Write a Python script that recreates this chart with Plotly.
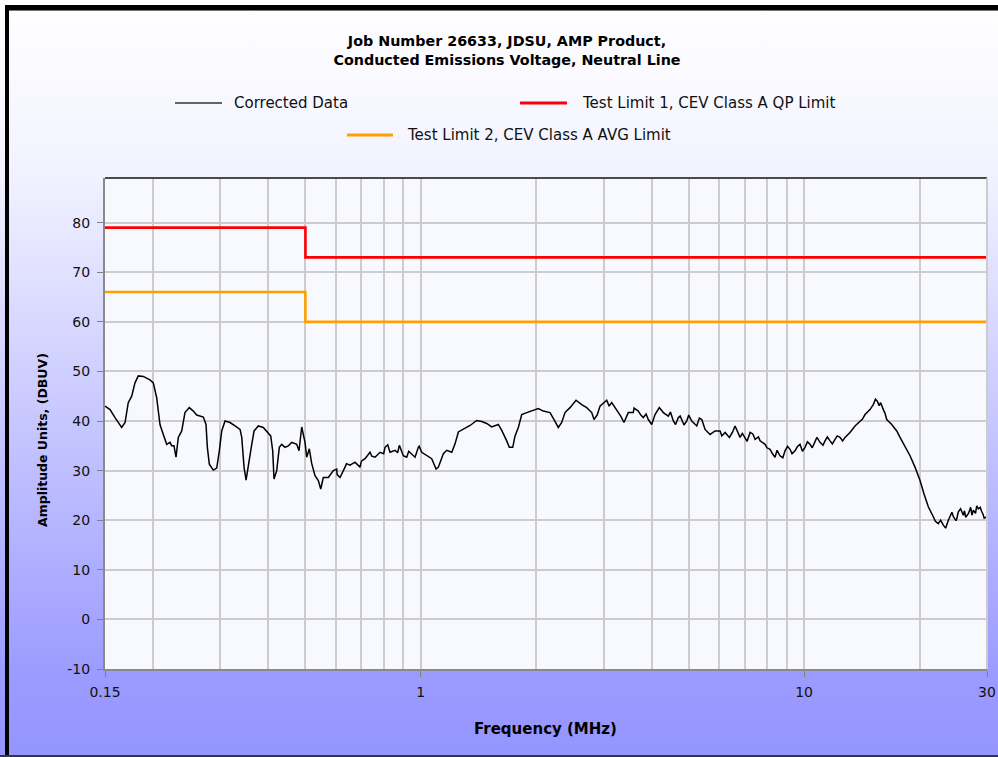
import base64
import plotly.graph_objects as go

# ---------------- data ----------------
freq_mhz = [
    0.150, 0.1546, 0.1593, 0.1658, 0.1692, 0.1725, 0.1761, 0.1796, 0.1832, 0.1888,
    0.1965, 0.2005, 0.2046, 0.2087, 0.2129, 0.2173, 0.2217, 0.2239, 0.2270, 0.2298,
    0.2330, 0.2378, 0.2425, 0.2489, 0.2550, 0.2602, 0.2708, 0.2752, 0.2774, 0.2807,
    0.2875, 0.2935, 0.2981, 0.3024, 0.3085, 0.3179, 0.3276, 0.3376, 0.3411, 0.3458,
    0.3500, 0.3549, 0.3622, 0.3673, 0.3767, 0.3882, 0.4000, 0.4059, 0.4108, 0.4140,
    0.4208, 0.4274, 0.4336, 0.4423, 0.4511, 0.4605, 0.4745, 0.4811,
    0.4890, 0.4988, 0.5039, 0.5118, 0.5193, 0.5297, 0.5403, 0.5482, 0.5567, 0.5738,
    0.5912, 0.6034, 0.6155, 0.6343, 0.6536, 0.6735, 0.6941, 0.7152, 0.7371, 0.7596,
    0.7828, 0.8066, 0.8311, 0.8566, 0.8790, 0.9002, 0.9189, 0.9470, 0.9660, 0.9853,
    1.0055, 1.0363, 1.0678, 1.0960, 1.1113, 1.1450, 1.1687, 1.2043, 1.2284, 1.2530,
    1.2913, 1.3444, 1.3992, 1.4420, 1.4856, 1.5310, 1.5929, 1.6259,
    1.6754, 1.7018, 1.7370, 1.7613, 1.7966, 1.8333, 1.8894, 1.9470, 2.0256, 2.0876,
    2.1732, 2.2260, 2.2841, 2.3312, 2.3780, 2.4503, 2.5404, 2.6289, 2.7089, 2.7920,
    2.8308, 2.8875, 2.9345, 3.0551, 3.1479, 3.2441, 3.3228, 3.3891, 3.4776, 3.5841,
    3.6933, 3.8063, 3.9222, 4.0034, 4.0835, 4.1903, 4.2926, 4.4234, 4.5588, 4.6977,
    4.7949, 4.9410, 5.0922, 5.2475, 5.4080, 5.5161, 5.6837, 5.8575, 6.0362,
    6.2196, 6.3834, 6.6050, 6.8069, 7.0142, 7.2291, 7.4489, 7.6772, 7.9106, 8.1488,
    8.3964, 8.6516, 8.9165, 9.1877, 9.4688, 9.7566, 10.053, 10.361, 10.676, 11.003,
    11.337, 11.684, 12.039, 12.408, 12.785, 13.173,
    13.576, 13.989, 14.417, 14.856, 15.153, 15.523, 15.841, 16.092, 16.425, 16.926,
    17.444, 17.793, 18.335, 18.894, 19.469, 20.064, 20.550, 21.087, 21.732, 22.392,
    23.078, 23.4, 23.780, 24.1, 24.509, 24.9, 25.256, 25.6, 26.024, 26.4,
    26.822, 27.2, 27.638, 28.0, 28.483, 28.8, 29.073, 29.5, 30.0,
]
corrected_dbuv = [
    43.0, 42.3, 40.7, 38.7, 39.7, 43.7, 45.0, 47.7, 49.1, 49.0,
    48.3, 47.7, 44.7, 39.3, 37.3, 35.3, 35.7, 35.0, 35.0, 32.7,
    36.7, 38.0, 41.7, 42.7, 42.0, 41.2, 40.8, 39.3, 34.7, 31.3,
    30.1, 30.5, 34.0, 38.0, 40.0, 39.7, 39.0, 38.3, 36.7, 30.7,
    28.1, 30.7, 35.3, 38.0, 39.0, 38.7, 37.7, 37.0, 34.0, 28.3,
    30.0, 34.7, 35.3, 34.7, 35.0, 35.7, 35.3, 34.0,
    38.8, 35.7, 32.7, 34.4, 31.4, 29.0, 28.0, 26.3, 28.6, 28.6,
    30.0, 30.3, 28.6, 30.7, 31.1, 31.7, 30.7, 32.4, 33.7, 32.7,
    33.7, 34.7, 33.7, 34.1, 35.1, 33.0, 32.7, 33.4, 32.7, 34.7,
    33.7, 33.0, 32.4, 30.3, 30.7, 33.4, 34.1, 33.7, 35.4, 37.8,
    38.4, 39.1, 40.1, 39.9, 39.5, 38.8, 39.3, 38.1,
    36.0, 34.7, 34.7, 37.0, 38.7, 41.3, 41.7, 42.0, 42.5, 42.0,
    41.7, 40.3, 38.7, 39.7, 41.7, 42.7, 44.2, 43.3, 42.7, 41.7,
    40.3, 41.3, 43.0, 44.2, 43.7, 42.3, 41.0, 39.7, 41.7, 41.7,
    42.0, 40.7, 40.3, 39.3, 41.3, 42.7, 41.7, 41.0, 40.0, 40.7,
    40.3, 40.0, 40.0, 39.0, 40.3, 38.3, 37.3, 38.0, 38.0,
    37.7, 36.7, 39.0, 36.7, 36.7, 37.7, 36.3, 36.0, 35.3, 34.3,
    32.7, 33.0, 34.0, 34.3, 34.0, 35.3, 34.7, 35.3, 36.0, 35.7,
    36.0, 36.0, 36.3, 36.7, 36.7, 37.7,
    39.0, 40.0, 41.3, 42.3, 43.3, 44.0, 43.7, 42.3, 40.3, 39.3,
    38.0, 36.7, 35.0, 33.0, 30.7, 28.0, 25.3, 22.7, 20.7, 19.3,
    19.0, 18.4, 20.0, 20.9, 20.7, 19.9, 21.7, 22.3, 21.0, 20.6,
    21.3, 22.6, 22.0, 21.4, 22.3, 22.6, 21.7, 20.4, 20.7,
]

spike_freq_mhz = [
    0.605, 0.64, 0.70, 0.745, 0.80, 0.82, 0.87, 0.93, 0.99,
    3.10, 3.60, 3.75, 3.87, 4.48, 4.62, 4.75, 4.86, 5.00, 5.17, 5.33,
    6.10, 6.50, 6.90, 7.10, 7.35, 7.60, 8.00, 8.27, 8.50, 8.80,
    9.05, 9.30, 9.60, 9.90, 10.2, 10.5, 10.8, 11.2, 11.5, 11.85,
    12.2, 12.6, 13.0, 14.2, 14.6, 15.0, 15.35, 15.7, 16.25, 16.7,
    17.2, 18.1, 18.6, 22.0, 22.7, 24.3, 25.0, 26.2, 27.4, 28.2, 29.3,
]
spike_dbuv = [
    29.2, 31.4, 31.9, 32.9, 33.4, 35.2, 33.6, 33.9, 34.9,
    43.0, 42.6, 41.2, 41.4, 41.8, 39.3, 41.0, 39.2, 41.2, 39.4, 40.6,
    37.0, 37.7, 37.5, 35.9, 37.4, 36.8, 34.6, 33.4, 34.1, 32.6,
    34.9, 33.4, 34.8, 33.9, 35.8, 34.6, 36.7, 35.1, 36.8, 35.4,
    37.0, 36.0, 37.2, 40.4, 41.7, 42.8, 44.4, 43.1, 41.6, 39.8,
    38.6, 35.7, 34.0, 19.8, 20.0, 21.6, 20.2, 21.9, 21.0, 22.9, 21.2,
]

limit_freq = [0.15, 0.5, 30]
qp_limit = [79, 73, 73]
avg_limit = [66, 60, 60]

series_names = ["Corrected Data",
                "Test Limit 1, CEV Class A QP Limit",
                "Test Limit 2, CEV Class A AVG Limit"]
series_colors = ["#000000", "#ff0000", "#ffa000"]

x_tick_vals = [0.15, 1, 10, 30]
x_tick_text = ["0.15", "1", "10", "30"]
x_minor_vals = [0.2, 0.3, 0.4, 0.5, 0.6, 0.7, 0.8, 0.9,
                2, 3, 4, 5, 6, 7, 8, 9, 20]
y_tick_vals = [-10, 0, 10, 20, 30, 40, 50, 60, 70, 80]
y_tick_text = ["-10", "0", "10", "20", "30", "40", "50", "60", "70", "80"]

title_text = "Job Number 26633, JDSU, AMP Product,<br>Conducted Emissions Voltage, Neutral Line"
x_title = "Frequency (MHz)"
y_title = "Amplitude Units, (DBUV)"

# merge the traced points with the spike points in frequency order
pairs = sorted(zip(freq_mhz + spike_freq_mhz, corrected_dbuv + spike_dbuv))
trace_x = [p[0] for p in pairs]
trace_y = [p[1] for p in pairs]

# ---------------- figure ----------------
FONT = "DejaVu Sans"
W, H = 998, 757
L, R, T, B = 105, 11, 178, 88
pw, ph = W - L - R, H - T - B


def px(xp):
    return (xp - L) / pw


def py(yp):
    return (H - B - yp) / ph


fig = go.Figure()
fig.add_trace(go.Scatter(
    x=trace_x, y=trace_y, mode="lines", name=series_names[0],
    line=dict(color=series_colors[0], width=1.5)))
fig.add_trace(go.Scatter(
    x=limit_freq, y=qp_limit, mode="lines", name=series_names[1],
    line=dict(color=series_colors[1], width=2.6, shape="hv")))
fig.add_trace(go.Scatter(
    x=limit_freq, y=avg_limit, mode="lines", name=series_names[2],
    line=dict(color=series_colors[2], width=2.6, shape="hv")))

# background gradient as inline SVG image
svg = ('<svg xmlns="http://www.w3.org/2000/svg" width="100" height="757" preserveAspectRatio="none">'
       '<defs><linearGradient id="g" x1="0" y1="0" x2="0" y2="1">'
       '<stop offset="0" stop-color="#ffffff"/>'
       '<stop offset="0.22" stop-color="#f3f3ff"/>'
       '<stop offset="0.9" stop-color="#9a9aff"/>'
       '<stop offset="1" stop-color="#9595ff"/>'
       '</linearGradient></defs>'
       '<rect x="0" y="0" width="100" height="757" fill="url(#g)"/></svg>')
svg_uri = "data:image/svg+xml;base64," + base64.b64encode(svg.encode()).decode()

# manual legend (line samples + text)
legend_items = [  # (line x0, line x1, y, text x)
    (175, 222, 103, 232),
    (520, 567, 103, 580),
    (347, 393, 135, 405),
]
legend_line_colors = ["#333333", "#ff0000", "#ffa000"]
legend_line_widths = [1.5, 3, 3]

shapes = [
    # plot area background (above gradient, below grid)
    dict(type="rect", xref="x domain", yref="y domain", x0=0, x1=1, y0=0, y1=1,
         fillcolor="#f8f8ff", line=dict(width=0), layer="below"),
    # plot frame top / right
    dict(type="line", xref="paper", yref="paper", x0=0, x1=1, y0=1, y1=1,
         line=dict(color="#4a4a4a", width=2)),
    dict(type="line", xref="paper", yref="paper", x0=1, x1=1, y0=0, y1=1,
         line=dict(color="#cccccc", width=2)),
    # window frame
    dict(type="rect", xref="paper", yref="paper", x0=px(5), x1=px(W), y0=py(5), y1=py(10),
         fillcolor="#000000", line=dict(width=0), layer="above"),
    dict(type="rect", xref="paper", yref="paper", x0=px(5), x1=px(W), y0=py(10), y1=py(11),
         fillcolor="#777777", line=dict(width=0), layer="above"),
    dict(type="rect", xref="paper", yref="paper", x0=px(5), x1=px(9), y0=py(5), y1=py(H),
         fillcolor="#000000", line=dict(width=0), layer="above"),
    dict(type="rect", xref="paper", yref="paper", x0=px(0), x1=px(W), y0=py(H - 2), y1=py(H),
         fillcolor="#333355", line=dict(width=0), layer="above"),
]
annotations = []
for (lx0, lx1, ly, tx), name, c, w in zip(legend_items, series_names,
                                          legend_line_colors, legend_line_widths):
    shapes.append(dict(type="line", xref="paper", yref="paper",
                       x0=px(lx0), x1=px(lx1), y0=py(ly), y1=py(ly),
                       line=dict(color=c, width=w)))
    annotations.append(dict(text=name, xref="paper", yref="paper",
                            x=px(tx), y=py(ly), xanchor="left", yanchor="middle",
                            showarrow=False,
                            font=dict(family=FONT, size=15, color="#111111")))

# axis titles placed as annotations for exact position
annotations.append(dict(text="<b>" + y_title + "</b>", xref="paper", yref="paper",
                        x=px(42), y=py(440), xanchor="center", yanchor="middle",
                        textangle=-90, showarrow=False,
                        font=dict(family=FONT, size=12.5, color="#000000")))
annotations.append(dict(text="<b>" + x_title + "</b>", xref="paper", yref="paper",
                        x=px(545), y=py(729), xanchor="center", yanchor="middle",
                        showarrow=False,
                        font=dict(family=FONT, size=15, color="#000000")))

fig.update_layout(
    width=W, height=H,
    margin=dict(l=L, r=R, t=T, b=B, autoexpand=False),
    paper_bgcolor="#ffffff",
    plot_bgcolor="#f8f8ff",
    showlegend=False,
    title=dict(text="<b>" + title_text + "</b>", x=px(507), xref="paper", xanchor="center",
               y=(H - 46) / H, yanchor="middle",
               font=dict(family=FONT, size=14.3, color="#000000")),
    images=[dict(source=svg_uri, xref="paper", yref="paper",
                 x=px(0), y=py(0), sizex=W / pw, sizey=H / ph,
                 xanchor="left", yanchor="top", sizing="stretch", layer="below")],
    xaxis=dict(
        type="log", range=[-0.823909, 1.477121],  # log10(0.15) .. log10(30)
        tickmode="array", tickvals=x_tick_vals, ticktext=x_tick_text,
        ticks="outside", ticklen=6, tickcolor="#808080", tickwidth=1,
        ticklabelstandoff=3,
        showgrid=True, gridcolor="#cccccc", gridwidth=2,
        minor=dict(tickmode="array", tickvals=x_minor_vals, showgrid=True,
                   gridcolor="#cccccc", gridwidth=2, ticks=""),
        showline=True, linecolor="#8a8a8a", linewidth=2,
        zeroline=False,
        tickfont=dict(family=FONT, size=14, color="#111111"),
    ),
    yaxis=dict(
        range=[-10, 89],
        tickmode="array", tickvals=y_tick_vals, ticktext=y_tick_text,
        ticks="outside", ticklen=6, tickcolor="#808080", tickwidth=1,
        ticklabelstandoff=4,
        showgrid=True, gridcolor="#cccccc", gridwidth=2,
        showline=True, linecolor="#8a8a8a", linewidth=2,
        zeroline=False,
        tickfont=dict(family=FONT, size=14, color="#111111"),
    ),
    shapes=shapes,
    annotations=annotations,
)

fig.write_html("out.html", config={"displayModeBar": False},
               post_script="document.body.style.margin='0';document.body.style.overflow='hidden';")
